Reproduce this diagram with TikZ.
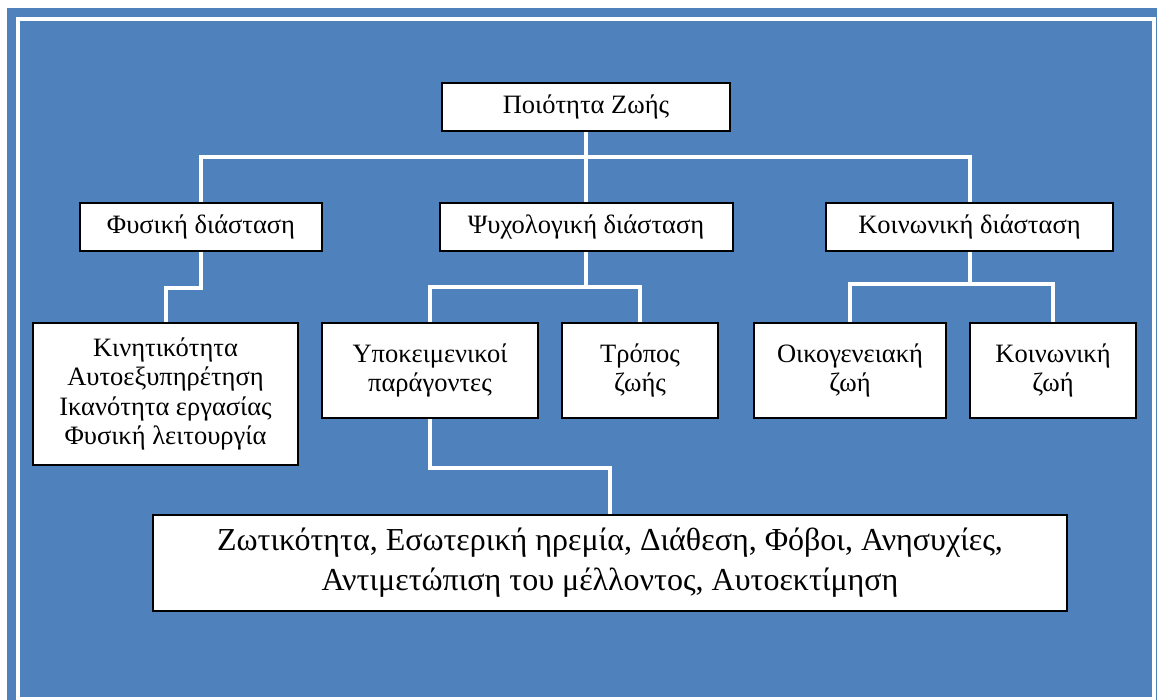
\documentclass[tikz,border=0pt]{standalone}
\usepackage{fontspec}
\setmainfont{Liberation Serif}
\definecolor{bgblue}{RGB}{79,129,189}
\tikzset{
  box/.style={draw=black, line width=2pt, fill=white, align=center, inner sep=0pt,
    font=\fontsize{26.5}{29.5}\selectfont},
  conn/.style={draw=white, line width=4pt}
}
\begin{document}
\begin{tikzpicture}[x=1pt, y=-1pt]
\useasboundingbox (0,0) rectangle (1157,700);
\fill[white] (0,0) rectangle (1157,700);
\fill[bgblue] (7,8) rectangle (1157,700);
\draw[white, line width=4pt] (18,19) rectangle (1154,699);

\node[box, minimum width=288, minimum height=48] (QoL) at (586,107) {Ποιότητα Ζωής};

\node[box, minimum width=242, minimum height=48] (phys) at (201,227) {Φυσική διάσταση};
\node[box, minimum width=293, minimum height=48] (psych) at (586,227) {Ψυχολογική διάσταση};
\node[box, minimum width=287, minimum height=48] (soc) at (969.5,227) {Κοινωνική διάσταση};

\node[box, minimum width=265, minimum height=142] (func) at (165.5,394)
  {Κινητικότητα\\Αυτοεξυπηρέτηση\\Ικανότητα εργασίας\\Φυσική λειτουργία};
\node[box, minimum width=216, minimum height=95] (subj) at (430,370.5) {Υποκειμενικοί\\παράγοντες};
\node[box, minimum width=156, minimum height=95] (life) at (640,370.5) {Τρόπος\\ζωής};
\node[box, minimum width=192, minimum height=95] (fam) at (850,370.5) {Οικογενειακή\\ζωή};
\node[box, minimum width=166, minimum height=95] (social) at (1053,370.5) {Κοινωνική\\ζωή};

\node[box, minimum width=914, minimum height=96, font=\fontsize{32}{40}\selectfont] (items) at (610,563)
  {Ζωτικότητα, Εσωτερική ηρεμία, Διάθεση, Φόβοι, Ανησυχίες,\\Αντιμετώπιση του μέλλοντος, Αυτοεκτίμηση};

\coordinate (bus1) at (586,157);
\coordinate (bus2) at (586,287);
\coordinate (bus3) at (969.5,284);

\draw[conn] (QoL.south) -- (psych.north);
\draw[conn] (phys.north) |- (bus1) -| (soc.north);
\draw[conn] (phys.south) -- ++(0,36) -| (func.north);
\draw[conn] (psych.south) -- (bus2);
\draw[conn] (subj.north) |- (bus2) -| (life.north);
\draw[conn] (soc.south) -- (bus3);
\draw[conn] (fam.north) |- (bus3) -| (social.north);
\draw[conn] (subj.south) -- ++(0,49) -| (items.north);
\end{tikzpicture}
\end{document}
